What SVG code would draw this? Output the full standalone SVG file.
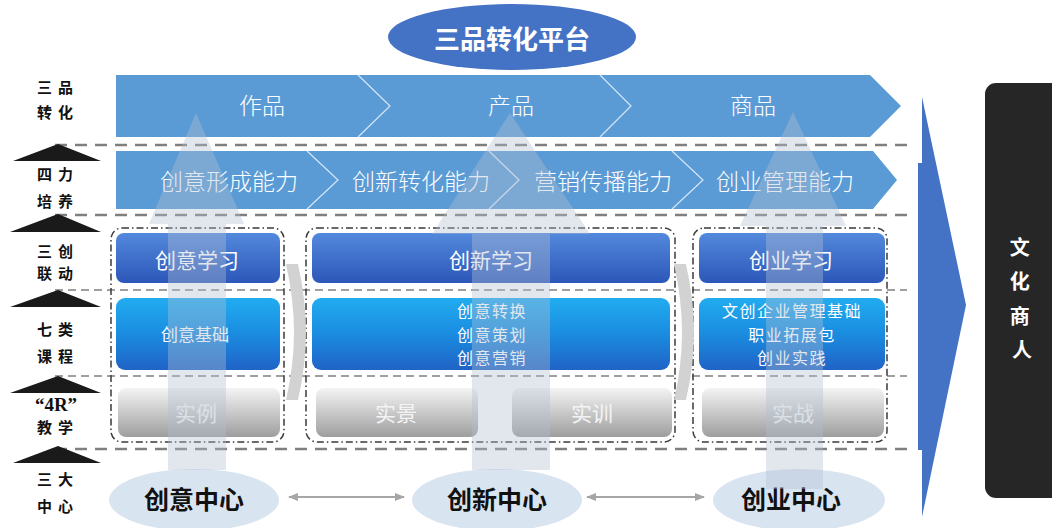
<svg xmlns="http://www.w3.org/2000/svg" width="1052" height="528" viewBox="0 0 1052 528">
<defs>
  <linearGradient id="gBlue" x1="0" y1="0" x2="0" y2="1">
    <stop offset="0" stop-color="#5389dc"/>
    <stop offset="1" stop-color="#2c57b9"/>
  </linearGradient>
  <linearGradient id="gCyan" x1="0" y1="0" x2="0" y2="1">
    <stop offset="0" stop-color="#22acf0"/>
    <stop offset="0.5" stop-color="#1a8ce0"/>
    <stop offset="1" stop-color="#2063c6"/>
  </linearGradient>
  <linearGradient id="gGray" x1="0" y1="0" x2="0" y2="1">
    <stop offset="0" stop-color="#f4f4f4"/>
    <stop offset="1" stop-color="#9e9e9e"/>
  </linearGradient>
  <marker id="ah" viewBox="0 0 10 10" refX="9" refY="5" markerWidth="5" markerHeight="5" orient="auto-start-reverse">
    <path d="M0,1 L10,5 L0,9 z" fill="#a6a6a6"/>
  </marker>
</defs>
<style>
  .lbl{font-family:"Noto Sans CJK SC","Noto Sans",sans-serif;font-weight:700;font-size:15px;fill:#111;letter-spacing:6px;text-anchor:middle}
  .band{fill:#5b9bd5}
  .div{fill:none;stroke:#d6e6f6;stroke-width:1.2}
  .bt{font-family:"Noto Sans CJK SC","Noto Sans",sans-serif;font-size:23px;fill:#ffffff;text-anchor:middle;dominant-baseline:central;font-weight:300}
  .dashA{stroke:#7f7f7f;stroke-width:2.5;stroke-dasharray:12 8;fill:none}
  .dashB{stroke:#808080;stroke-width:1.5;stroke-dasharray:8 5;fill:none}
  .cont{fill:none;stroke:#3a3a3a;stroke-width:1.5;stroke-dasharray:7 3 1.5 3}
  .t20{font-family:"Noto Sans CJK SC","Noto Sans",sans-serif;font-size:21px;fill:#ffffff;text-anchor:middle;dominant-baseline:central}
  .t18{font-family:"Noto Sans CJK SC","Noto Sans",sans-serif;font-size:17px;fill:#ffffff;text-anchor:middle;dominant-baseline:central}
  .t16{font-family:"Noto Sans CJK SC","Noto Sans",sans-serif;font-size:16px;letter-spacing:1.5px;fill:#ffffff;text-anchor:middle;dominant-baseline:central}
  .tg{font-family:"Noto Sans CJK SC","Noto Sans",sans-serif;font-size:21px;fill:#f4f4f4;text-anchor:middle;dominant-baseline:central}
  .up{fill:#b4bfd2;opacity:0.38}
  .ctr{fill:#d9e4f1}
  .ct{font-family:"Noto Sans CJK SC","Noto Sans",sans-serif;font-size:25px;font-weight:700;fill:#111;text-anchor:middle;dominant-baseline:central}
  .chev{fill:#d2d2d2}
  .conn{stroke:#a6a6a6;stroke-width:2;fill:none}
</style>
<rect x="0" y="0" width="1052" height="528" fill="#ffffff"/>

<g id="title">
  <ellipse cx="512" cy="37" rx="124" ry="33" fill="#4472c4"/>
  <text x="512" y="37" font-family="Noto Sans CJK SC, sans-serif" font-size="26" font-weight="700" fill="#ffffff" text-anchor="middle" dominant-baseline="central">三品转化平台</text>
</g>

<g id="row1-sanpin">
  <polygon class="band" points="116,75 870,75 901,106 870,137 116,137"/>
  <polyline class="div" points="358,75 390,106 358,137"/>
  <polyline class="div" points="600,75 631,106 600,137"/>
  <text class="bt" x="262" y="104">作品</text>
  <text class="bt" x="511" y="104">产品</text>
  <text class="bt" x="753" y="104">商品</text>
</g>

<g id="row2-sili">
  <polygon class="band" points="116,151 873,151 897,180 873,209 116,209"/>
  <polyline class="div" points="307,151 338,180 307,209"/>
  <polyline class="div" points="489,151 519,180 489,209"/>
  <polyline class="div" points="672,151 703,180 672,209"/>
  <text class="bt" x="229" y="180">创意形成能力</text>
  <text class="bt" x="421" y="180">创新转化能力</text>
  <text class="bt" x="603" y="180">营销传播能力</text>
  <text class="bt" x="785" y="180">创业管理能力</text>
</g>

<g id="dashed-lines">
  <line class="dashA" x1="55" y1="145" x2="907" y2="145"/>
  <line class="dashA" x1="55" y1="215" x2="907" y2="215"/>
  <line class="dashB" x1="55" y1="290" x2="907" y2="290"/>
  <line class="dashB" x1="55" y1="376" x2="907" y2="376"/>
  <line class="dashA" x1="55" y1="449" x2="907" y2="449"/>
</g>

<g id="group-chuangyi">
  <rect class="cont" x="111" y="228" width="173" height="214" rx="11"/>
  <rect x="116" y="233" width="164" height="50" rx="8" fill="url(#gBlue)"/>
  <text class="t20" x="197" y="259">创意学习</text>
  <rect x="116" y="298" width="164" height="72" rx="9" fill="url(#gCyan)"/>
  <text class="t18" x="195" y="333">创意基础</text>
  <rect x="118" y="388" width="162" height="49" rx="8" fill="url(#gGray)"/>
  <text class="tg" x="196" y="412">实例</text>
</g>

<g id="group-chuangxin">
  <rect class="cont" x="306" y="228" width="369" height="214" rx="11"/>
  <rect x="312" y="233" width="358" height="50" rx="8" fill="url(#gBlue)"/>
  <text class="t20" x="491" y="259">创新学习</text>
  <rect x="312" y="298" width="358" height="72" rx="9" fill="url(#gCyan)"/>
  <text class="t16" x="492" y="310">创意转换</text>
  <text class="t16" x="492" y="333.5">创意策划</text>
  <text class="t16" x="492" y="357">创意营销</text>
  <rect x="316" y="388" width="162" height="49" rx="8" fill="url(#gGray)"/>
  <text class="tg" x="396" y="412">实景</text>
  <rect x="512" y="388" width="160" height="49" rx="8" fill="url(#gGray)"/>
  <text class="tg" x="592" y="412">实训</text>
</g>

<g id="group-chuangye">
  <rect class="cont" x="693" y="228" width="194" height="214" rx="11"/>
  <rect x="699" y="233" width="186" height="50" rx="8" fill="url(#gBlue)"/>
  <text class="t20" x="791" y="259">创业学习</text>
  <rect x="699" y="298" width="186" height="72" rx="9" fill="url(#gCyan)"/>
  <text class="t16" x="792" y="310">文创企业管理基础</text>
  <text class="t16" x="792" y="333.5">职业拓展包</text>
  <text class="t16" x="792" y="357">创业实践</text>
  <rect x="702" y="388" width="182" height="49" rx="8" fill="url(#gGray)"/>
  <text class="tg" x="793" y="412">实战</text>
</g>

<g id="gray-chevrons">
  <path class="chev" d="M286,264 L298,264 Q306,300 306,332 Q306,365 298,400 L286,400 Q294,365 294,332 Q294,300 286,264 Z"/>
  <path class="chev" d="M674,264 L686,264 Q694,300 694,332 Q694,365 686,400 L674,400 Q682,365 682,332 Q682,300 674,264 Z"/>
</g>

<g id="centers">
  <g id="center-chuangyi">
    <ellipse class="ctr" cx="194" cy="500" rx="85" ry="31"/>
    <text class="ct" x="194" y="498">创意中心</text>
  </g>
  <g id="center-chuangxin">
    <ellipse class="ctr" cx="497" cy="500" rx="85" ry="31"/>
    <text class="ct" x="497" y="498">创新中心</text>
  </g>
  <g id="center-chuangye">
    <ellipse class="ctr" cx="799" cy="500" rx="86" ry="31"/>
    <text class="ct" x="791" y="498">创业中心</text>
  </g>
</g>

<g id="up-arrows">
  <polygon class="up" points="196,113 244,224 226,224 226,470 168,470 168,224 149,224"/>
  <polygon class="up" points="510,113 590,234 550,234 550,470 472,470 472,234 432,234"/>
  <polygon class="up" points="793,112 846,226 823,226 823,489 766,489 766,226 740,226"/>
</g>

<g id="output-arrow">
  <polygon points="922,97 966,305 922,517 922,450 918,450 918,163 922,163" fill="#4472c4"/>
</g>

<g id="wenhua-shangren">
  <rect x="985" y="83" width="80" height="415" rx="11" fill="#262626"/>
  <text font-family="Noto Sans CJK SC, sans-serif" font-size="20" font-weight="700" fill="#ffffff" text-anchor="middle" dominant-baseline="central">
    <tspan x="1022" y="246">文</tspan>
    <tspan x="1022" y="280">化</tspan>
    <tspan x="1022" y="315">商</tspan>
    <tspan x="1022" y="348">人</tspan>
  </text>
</g>

<g id="left-labels">
  <text class="lbl" x="58" y="93">三品</text>
  <text class="lbl" x="58" y="118">转化</text>
  <polygon points="13,161 58,144 101,161" fill="#1a1a1a"/>
  <text class="lbl" x="58" y="180">四力</text>
  <text class="lbl" x="58" y="207">培养</text>
  <polygon points="10,232 58,214 101,232" fill="#1a1a1a"/>
  <text class="lbl" x="58" y="257">三创</text>
  <text class="lbl" x="58" y="279">联动</text>
  <polygon points="10,307 58,290 101,307" fill="#1a1a1a"/>
  <text class="lbl" x="58" y="335">七类</text>
  <text class="lbl" x="58" y="362">课程</text>
  <polygon points="10,393 58,376 101,393" fill="#1a1a1a"/>
  <text x="56" y="411" font-family="Liberation Serif, serif" font-size="19" font-weight="700" fill="#111" text-anchor="middle">“4R”</text>
  <text class="lbl" x="58" y="433">教学</text>
  <polygon points="13,463 58,446 101,463" fill="#1a1a1a"/>
  <text class="lbl" x="58" y="485">三大</text>
  <text class="lbl" x="58" y="512">中心</text>
</g>

<g id="connectors">
  <line class="conn" x1="289" y1="497" x2="404" y2="497" marker-start="url(#ah)" marker-end="url(#ah)"/>
  <line class="conn" x1="587" y1="497" x2="704" y2="497" marker-start="url(#ah)" marker-end="url(#ah)"/>
</g>
</svg>
